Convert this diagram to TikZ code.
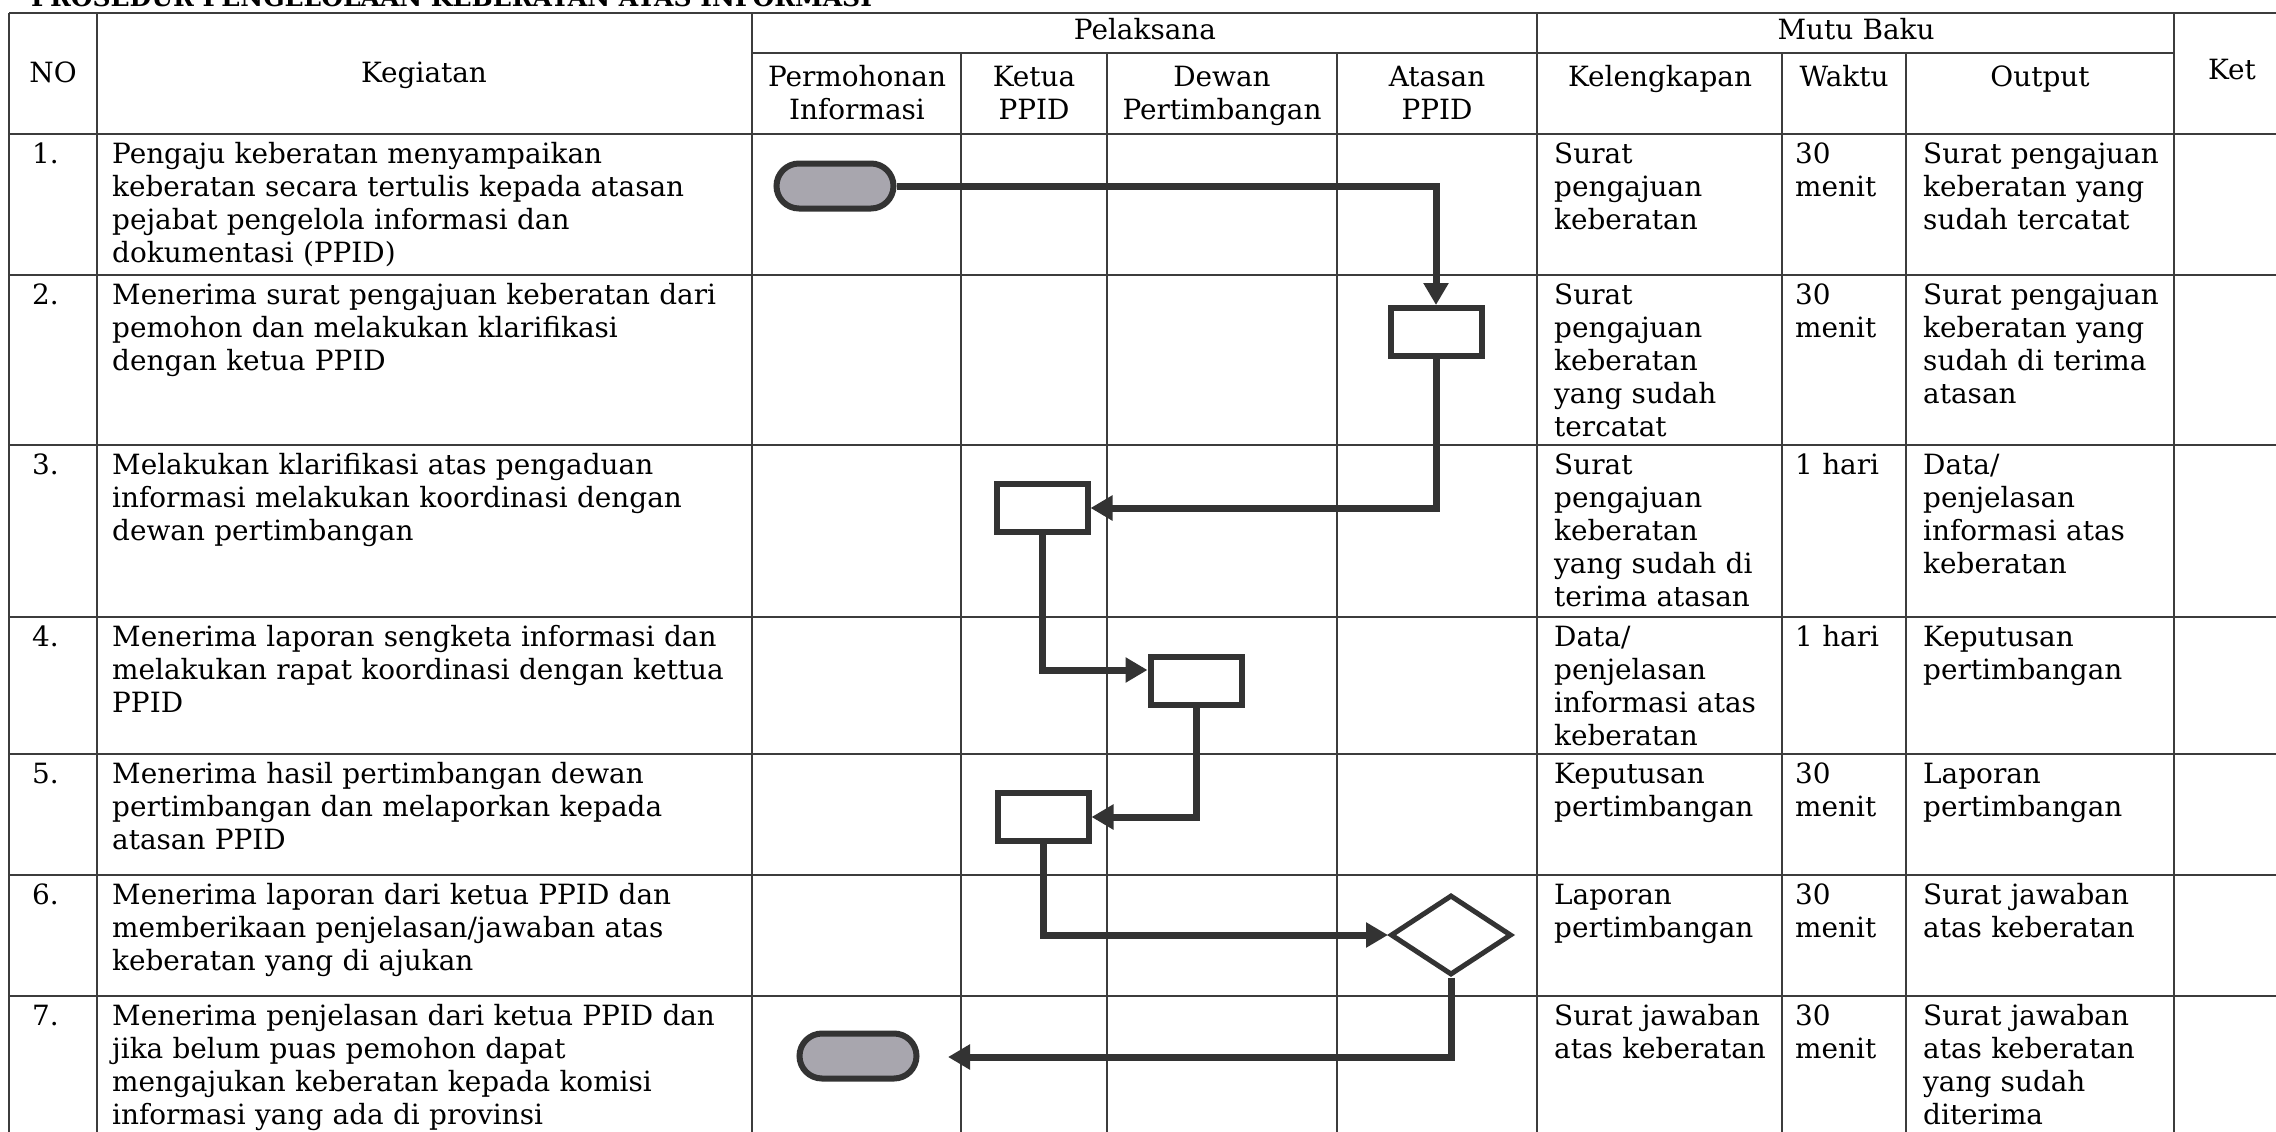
\documentclass[tikz,border=0pt]{standalone}
\usepackage{fontspec}
\setmainfont{DejaVu Serif}
\usetikzlibrary{arrows.meta,shapes.geometric,shapes.misc}
\definecolor{ink}{HTML}{333333}
\definecolor{gridc}{HTML}{3C3C3C}
\definecolor{termfill}{HTML}{A8A6AE}
\begin{document}
\begin{tikzpicture}[x=1pt,y=-1pt,
  txt/.style={anchor=base west,inner sep=0pt,align=left,text width=#1,font=\fontsize{27.9}{33}\selectfont},
  txt/.default=300pt,
  hdc/.style={anchor=base,inner sep=0pt,align=center,text width=#1,font=\fontsize{27.9}{33}\selectfont},
  hdc/.default=220pt,
  gridline/.style={draw=gridc,line width=2pt},
  procbox/.style={draw=ink,line width=6pt,minimum width=91pt,minimum height=48pt,inner sep=0pt,fill=white},
  term/.style={draw=ink,line width=6pt,rounded rectangle,minimum width=117pt,minimum height=45pt,inner sep=0pt,fill=termfill},
  dec/.style={draw=ink,line width=5pt,diamond,minimum width=121pt,minimum height=80pt,inner sep=0pt,fill=white},
  flow/.style={draw=ink,line width=7pt,-{Triangle[length=22pt,width=24pt]}},
]
\useasboundingbox[fill=white] (0,0) rectangle (2276,1132);

% title (cut at the top edge)
\node[anchor=base west,inner sep=0pt,font=\fontsize{25}{30}\selectfont\bfseries] (title) at (31,7) {PROSEDUR PENGELOLAAN KEBERATAN ATAS INFORMASI};

% table grid
\foreach \yy in {13,134,275,445,617,754,875,996} \draw[gridline] (9,\yy) -- (2300,\yy);
\draw[gridline] (752,53) -- (2174,53);
\foreach \xx in {9,97,752,1537,2174} \draw[gridline] (\xx,13) -- (\xx,1150);
\foreach \xx in {961,1107,1337,1782,1906} \draw[gridline] (\xx,53) -- (\xx,1150);

% header
\node[hdc=80pt] (hno) at (53,82) {NO};
\node[hdc=400pt] (hkeg) at (424,82) {Kegiatan};
\node[hdc=400pt] (hpel) at (1145,40) {Pelaksana};
\node[hdc=400pt] (hmutu) at (1856,40) {Mutu Baku};
\node[hdc=100pt] (hket) at (2232,80) {Ket};
\node[hdc] (hperm) at (857,86) {Permohonan\\Informasi};
\node[hdc] (hketua) at (1034,86) {Ketua\\PPID};
\node[hdc] (hdewan) at (1222,86) {Dewan\\Pertimbangan};
\node[hdc] (hatasan) at (1437,86) {Atasan\\PPID};
\node[hdc] (hkel) at (1660,86) {Kelengkapan};
\node[hdc] (hwak) at (1844,86) {Waktu};
\node[hdc] (hout) at (2040,86) {Output};

% row 1
\node[txt=60pt] (n1) at (32,163) {1.};
\node[txt=700pt] (k1) at (112,163) {Pengaju keberatan menyampaikan\\keberatan secara tertulis kepada atasan\\pejabat pengelola informasi dan\\dokumentasi (PPID)};
\node[txt=300pt] (l1) at (1554,163) {Surat\\pengajuan\\keberatan};
\node[txt=150pt] (w1) at (1795,163) {30\\menit};
\node[txt=340pt] (o1) at (1923,163) {Surat pengajuan\\keberatan yang\\sudah tercatat};

% row 2
\node[txt=60pt] (n2) at (32,304) {2.};
\node[txt=700pt] (k2) at (112,304) {Menerima surat pengajuan keberatan dari\\pemohon dan melakukan klarifikasi\\dengan ketua PPID};
\node[txt=300pt] (l2) at (1554,304) {Surat\\pengajuan\\keberatan\\yang sudah\\tercatat};
\node[txt=150pt] (w2) at (1795,304) {30\\menit};
\node[txt=340pt] (o2) at (1923,304) {Surat pengajuan\\keberatan yang\\sudah di terima\\atasan};

% row 3
\node[txt=60pt] (n3) at (32,474) {3.};
\node[txt=700pt] (k3) at (112,474) {Melakukan klarifikasi atas pengaduan\\informasi melakukan koordinasi dengan\\dewan pertimbangan};
\node[txt=300pt] (l3) at (1554,474) {Surat\\pengajuan\\keberatan\\yang sudah di\\terima atasan};
\node[txt=150pt] (w3) at (1795,474) {1 hari};
\node[txt=340pt] (o3) at (1923,474) {Data/\\penjelasan\\informasi atas\\keberatan};

% row 4
\node[txt=60pt] (n4) at (32,646) {4.};
\node[txt=700pt] (k4) at (112,646) {Menerima laporan sengketa informasi dan\\melakukan rapat koordinasi dengan kettua\\PPID};
\node[txt=300pt] (l4) at (1554,646) {Data/\\penjelasan\\informasi atas\\keberatan};
\node[txt=150pt] (w4) at (1795,646) {1 hari};
\node[txt=340pt] (o4) at (1923,646) {Keputusan\\pertimbangan};

% row 5
\node[txt=60pt] (n5) at (32,783) {5.};
\node[txt=700pt] (k5) at (112,783) {Menerima hasil pertimbangan dewan\\pertimbangan dan melaporkan kepada\\atasan PPID};
\node[txt=300pt] (l5) at (1554,783) {Keputusan\\pertimbangan};
\node[txt=150pt] (w5) at (1795,783) {30\\menit};
\node[txt=340pt] (o5) at (1923,783) {Laporan\\pertimbangan};

% row 6
\node[txt=60pt] (n6) at (32,904) {6.};
\node[txt=700pt] (k6) at (112,904) {Menerima laporan dari ketua PPID dan\\memberikaan penjelasan/jawaban atas\\keberatan yang di ajukan};
\node[txt=300pt] (l6) at (1554,904) {Laporan\\pertimbangan};
\node[txt=150pt] (w6) at (1795,904) {30\\menit};
\node[txt=340pt] (o6) at (1923,904) {Surat jawaban\\atas keberatan};

% row 7
\node[txt=60pt] (n7) at (32,1025) {7.};
\node[txt=700pt] (k7) at (112,1025) {Menerima penjelasan dari ketua PPID dan\\jika belum puas pemohon dapat\\mengajukan keberatan kepada komisi\\informasi yang ada di provinsi};
\node[txt=300pt] (l7) at (1554,1025) {Surat jawaban\\atas keberatan};
\node[txt=150pt] (w7) at (1795,1025) {30\\menit};
\node[txt=340pt] (o7) at (1923,1025) {Surat jawaban\\atas keberatan\\yang sudah\\diterima};

% flow shapes
\node[term] (t1) at (835,186) {};
\node[procbox] (b2) at (1436,332) {};
\node[procbox] (b3) at (1042,508) {};
\node[procbox] (b4) at (1196,681) {};
\node[procbox] (b5) at (1043,817) {};
\node[dec] (d6) at (1451,935) {};
\node[term] (t7) at (858,1056) {};
\coordinate (e7) at (948,1057);

% connectors
\draw[flow] (t1.east) -| (b2.north);
\draw[flow] (b2.south) |- (b3.east);
\draw[flow] (b3.south) |- ([yshift=11pt]b4.west);
\draw[flow] (b4.south) |- (b5.east);
\draw[flow] (b5.south) |- (d6.west);
\draw[flow] (d6.south) |- (e7);
\end{tikzpicture}
\end{document}
